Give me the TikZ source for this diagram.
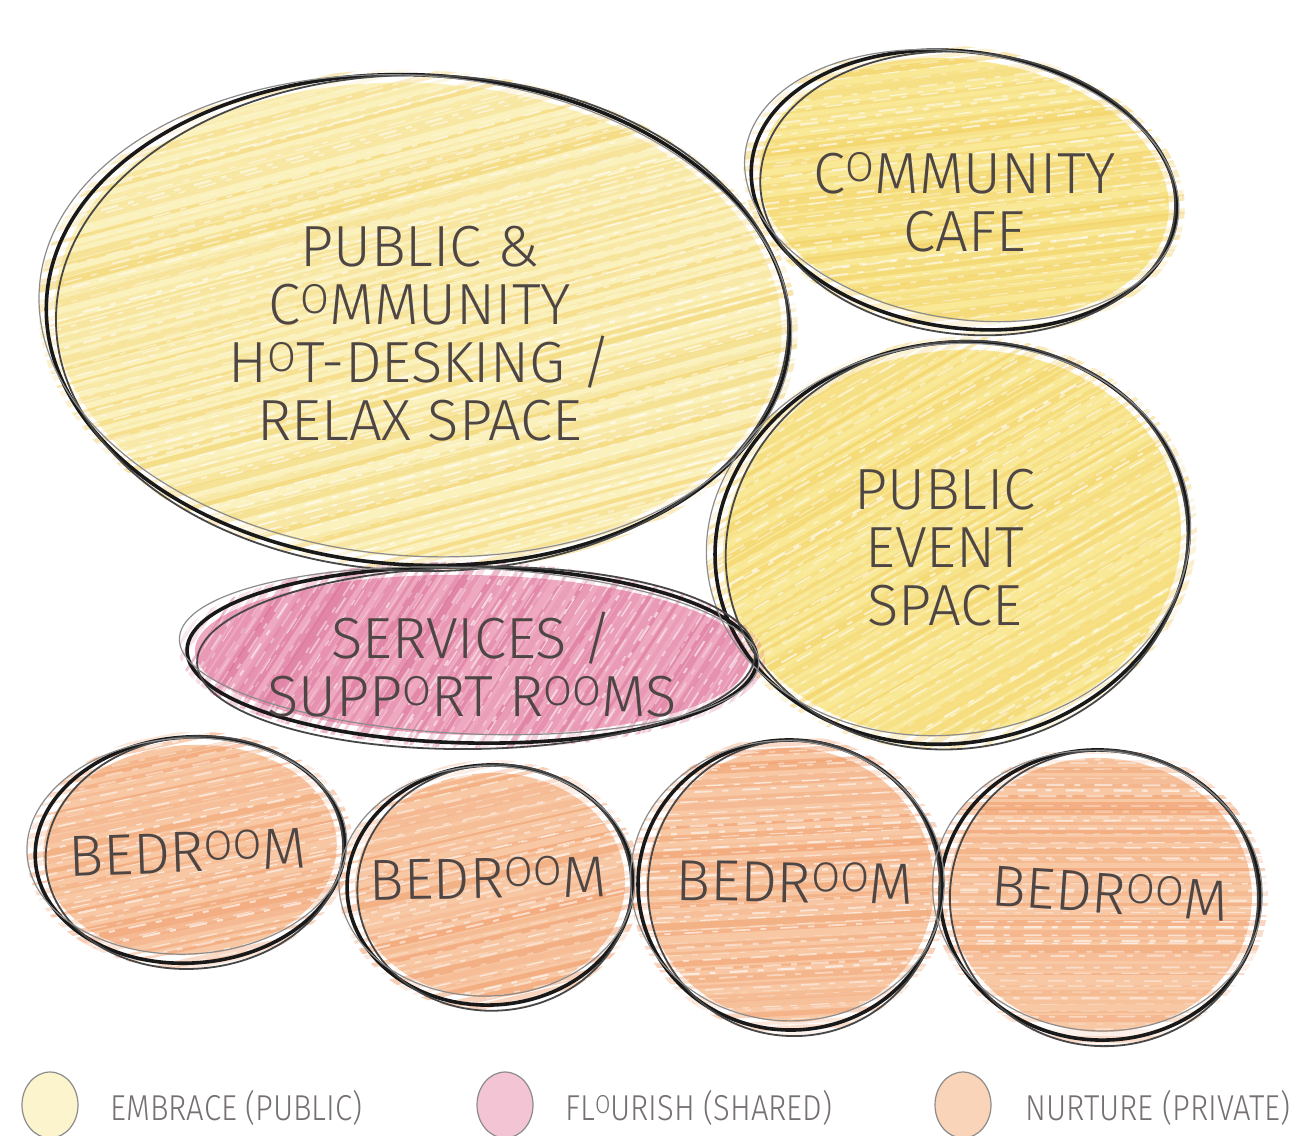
\documentclass[tikz,border=0pt]{standalone}
\usepackage{graphicx}
\usepackage{fontspec}
\IfFontExistsTF{Fira Sans Light}
  {\newfontfamily\hand{Fira Sans Light}}
  {\newfontfamily\hand{Fira Sans}}
\usetikzlibrary{shapes.geometric}

% palette
\definecolor{txtc}{RGB}{78,70,68}
\definecolor{legc}{RGB}{118,112,112}
\definecolor{ylwbase}{RGB}{251,241,188}
\definecolor{ylwstk}{RGB}{240,200,80}
\definecolor{ylwbase2}{RGB}{249,232,150}
\definecolor{pnkbase}{RGB}{238,168,192}
\definecolor{pnkstk}{RGB}{212,96,140}
\definecolor{orgbase}{RGB}{248,200,165}
\definecolor{orgstk}{RGB}{238,145,90}
\definecolor{legy}{RGB}{252,244,204}
\definecolor{legp}{RGB}{242,196,212}
\definecolor{lego}{RGB}{249,212,184}

% small raised O of the lettering
\newcommand\so{\raisebox{.2em}{\scalebox{.72}{O}}}

% crayon fill: cx, cy, rx, ry, rotation, base colour, streak colour, streak angle
\newcommand\crayon[8]{%
  \begin{scope}[shift={(#1,#2)}, rotate=#5]
    \fill[#6] (0,0) ellipse [x radius=#3-8, y radius=#4-8];
    \begin{scope}
      \clip (0,0) ellipse [x radius=#3+8, y radius=#4+5];
      \begin{scope}[rotate=#8]
        \foreach \k in {-42,...,42}{%
          \pgfmathsetmacro\ww{2+6*rnd}%
          \pgfmathsetmacro\oo{0.12+0.36*rnd}%
          \pgfmathsetmacro\dy{\k*9+3*rand}%
          \draw[#7, line width=\ww*0.5pt, opacity=\oo, line cap=round]
            (-520,\dy) -- (520,\dy);}
        % paper grain showing through the wax
        \foreach \k in {-60,...,60}{%
          \pgfmathsetmacro\ww{0.8+1.6*rnd}%
          \pgfmathsetmacro\oo{0.25+0.4*rnd}%
          \pgfmathsetmacro\dy{\k*6.5+3*rand}%
          \pgfmathsetmacro\xa{-520+300*rnd}%
          \draw[white, line width=\ww*0.5pt, opacity=\oo, dash pattern=on 9pt off 5pt on 3pt off 7pt]
            (\xa,\dy) -- (520,\dy+4*rand);}
      \end{scope}
    \end{scope}
  \end{scope}}

% extra pencil rings around a bubble: name, rx, ry, rotation
\newcommand\rings[4]{%
  \draw[ink2, rotate around={#4+2:(#1.center)}]
    ([shift={(4,3)}]#1.center) ellipse [x radius=#2-6, y radius=#3+3];
  \draw[ink3, rotate around={#4-1.5:(#1.center)}]
    ([shift={(-3,-4)}]#1.center) ellipse [x radius=#2+5, y radius=#3-5];}

\tikzset{
  ink/.style={draw=black!90, line width=1.8pt},
  ink2/.style={draw=black!72, line width=0.9pt},
  ink3/.style={draw=black!45, line width=0.6pt},
  room/.style={ellipse, inner sep=0pt, ink},
  lbl/.style={text=txtc, font=\hand\fontsize{29}{29}\selectfont, align=center, inner sep=0pt},
  leg/.style={text=legc, font=\hand\fontsize{18}{18}\selectfont, anchor=west, inner sep=0pt},
  legdot/.style={ellipse, inner sep=0pt, draw=black!45, line width=0.6pt,
    minimum width=28pt, minimum height=33pt}
}

\begin{document}
\begin{tikzpicture}[x=0.5pt, y=-0.5pt]
  \useasboundingbox (0,0) rectangle (1316,1135);
  \fill[white] (0,0) rectangle (1316,1135);
  \pgfmathsetseed{42}

  % crayon fills
  \crayon{418}{320}{372}{245}{-3}{ylwbase}{ylwstk}{18}
  \crayon{964}{190}{214}{138}{-8}{ylwbase2}{ylwstk}{15}
  \crayon{952}{543}{238}{200}{10}{ylwbase2}{ylwstk}{20}
  \crayon{472}{655}{285}{88}{-1}{pnkbase}{pnkstk}{58}
  \crayon{190}{850}{155}{113}{4}{orgbase}{orgstk}{8}
  \crayon{490}{885}{143}{120}{3}{orgbase}{orgstk}{10}
  \crayon{790}{885}{152}{145}{-3}{orgbase}{orgstk}{6}
  \crayon{1100}{895}{160}{145}{-4}{orgbase}{orgstk}{4}

  % bubbles
  \node[room, minimum width=372pt, minimum height=245pt, rotate=-3] (pub) at (418,320) {};
  \node[room, minimum width=214pt, minimum height=138pt, rotate=-8] (cafe) at (964,190) {};
  \node[room, minimum width=238pt, minimum height=200pt, rotate=10] (event) at (952,543) {};
  \node[room, minimum width=285pt, minimum height=88pt, rotate=-1] (serv) at (472,655) {};
  \node[room, minimum width=155pt, minimum height=113pt, rotate=4] (bed1) at (190,850) {};
  \node[room, minimum width=143pt, minimum height=120pt, rotate=3] (bed2) at (490,885) {};
  \node[room, minimum width=152pt, minimum height=145pt, rotate=-3] (bed3) at (790,885) {};
  \node[room, minimum width=160pt, minimum height=145pt, rotate=-4] (bed4) at (1100,895) {};

  \rings{pub}{372}{245}{-3}
  \rings{cafe}{214}{138}{-8}
  \rings{event}{238}{200}{10}
  \rings{serv}{285}{88}{-1}
  \rings{bed1}{155}{113}{4}
  \rings{bed2}{143}{120}{3}
  \rings{bed3}{152}{145}{-3}
  \rings{bed4}{160}{145}{-4}

  % labels
  \node[lbl] (pubt) at (420,334) {PUBLIC \&\\C\so MMUNITY\\H\so T-DESKING /\\RELAX SPACE};
  \node[lbl] (cafet) at (965,202) {C\so MMUNITY\\CAFE};
  \node[lbl] (eventt) at (945,548) {PUBLIC\\EVENT\\SPACE};
  \node[lbl] (servt) at (472,665) {SERVICES /\\SUPP\so RT R\so\so MS};
  \node[lbl, rotate=2] (bed1t) at (188,852) {BEDR\so\so M};
  \node[lbl, rotate=1] (bed2t) at (488,878) {BEDR\so\so M};
  \node[lbl, rotate=-1] (bed3t) at (795,882) {BEDR\so\so M};
  \node[lbl, rotate=-4] (bed4t) at (1110,893) {BEDR\so\so M};

  % legend
  \node[legdot, fill=legy] (kpub) at (50,1105) {};
  \node[legdot, fill=legp] (kshr) at (505,1105) {};
  \node[legdot, fill=lego] (kpri) at (963,1105) {};
  \node[leg] (kpubt) at (110,1108) {\scalebox{.86}[1]{EMBRACE (PUBLIC)}};
  \node[leg] (kshrt) at (565,1108) {\scalebox{.86}[1]{FL\so URISH (SHARED)}};
  \node[leg] (kprit) at (1025,1108) {\scalebox{.86}[1]{NURTURE (PRIVATE)}};
\end{tikzpicture}
\end{document}
